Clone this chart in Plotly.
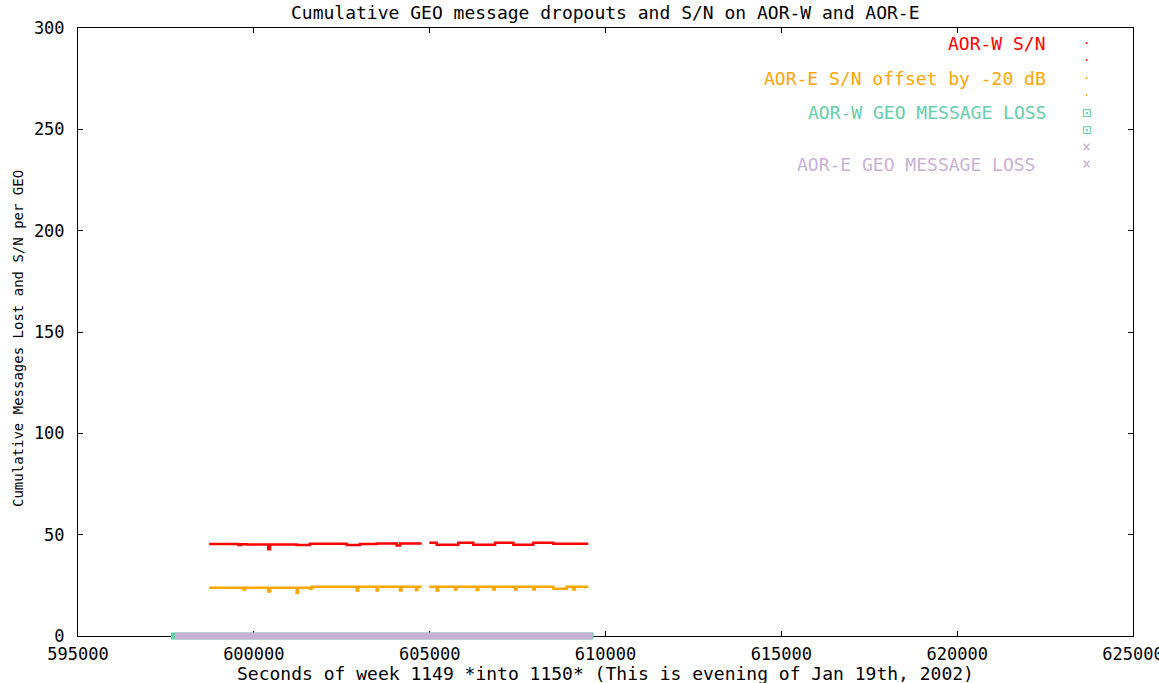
import plotly.graph_objects as go

# ---------------- data ----------------
# AOR-W S/N (dB-Hz), step samples; None marks the data gap
aorw_t = [598734, 599559, 599640, 599797, 600412, 600460, 601218, 601597, 602071,
          602640, 603018, 603492, 604062, 604156, 604773, 604880, 604990, 605200,
          605815, 606242, 606858, 607380, 607948, 608517, 608706, 609511]
aorw_v = [45.4, 44.9, 45.3, 45.2, 42.8, 45.2, 44.9, 45.5, 45.5,
          44.9, 45.4, 45.7, 44.6, 45.7, 45.7, None, 46.0, 45.0,
          46.0, 45.0, 46.0, 45.0, 46.0, 45.5, 45.5, 45.5]

# AOR-E S/N offset by -20 dB
aore_t = [598734, 599702, 599760, 600412, 600460, 601218, 601260, 601597, 601645,
          602450, 602924, 602970, 603492, 603530, 604156, 604200, 604611, 604650,
          604773, 604880, 604990, 605200, 605240, 605720, 605760, 606336, 606380,
          606810, 606850, 607427, 607470, 607948, 607990, 608517, 608896, 609085,
          609130, 609511]
aore_v = [23.85, 23.0, 23.85, 21.9, 23.85, 21.4, 23.85, 23.35, 24.34,
          24.34, 22.4, 24.34, 22.4, 24.34, 22.4, 24.34, 22.7, 24.34,
          24.34, None, 24.34, 22.4, 24.34, 23.0, 24.34, 22.7, 24.34,
          23.0, 24.34, 22.9, 24.34, 23.0, 24.34, 23.35, 24.34, 23.0,
          24.34, 24.34]

# cumulative GEO message loss (no losses)
lossw_t = [597640, 609660]
lossw_v = [0, 0]
losse_t = [597760, 609630]
losse_v = [0, 0]

x_ticks = [595000, 600000, 605000, 610000, 615000, 620000, 625000]
y_ticks = [0, 50, 100, 150, 200, 250, 300]

legend_labels = ["AOR-W S/N", "AOR-E S/N offset by -20 dB",
                 "AOR-W GEO MESSAGE LOSS", "AOR-E GEO MESSAGE LOSS"]

RED = "#ff0000"
ORANGE = "#ffa500"
GREEN = "#66cdaa"
PLUM = "#c8b2d4"
FONT = "DejaVu Sans Mono"

fig = go.Figure()
fig.add_trace(go.Scatter(x=aore_t, y=aore_v, mode="lines", line=dict(color=ORANGE, width=2.5, shape="hv"),
                         xaxis="x", yaxis="y", connectgaps=False, showlegend=False))
fig.add_trace(go.Scatter(x=aorw_t, y=aorw_v, mode="lines", line=dict(color=RED, width=2.5, shape="hv"),
                         xaxis="x", yaxis="y", connectgaps=False, showlegend=False))
fig.add_trace(go.Scatter(x=lossw_t, y=lossw_v, mode="lines", line=dict(color=GREEN, width=7),
                         xaxis="x", yaxis="y2", showlegend=False))
fig.add_trace(go.Scatter(x=losse_t, y=losse_v, mode="lines", line=dict(color=PLUM, width=7),
                         xaxis="x", yaxis="y2", showlegend=False))

W, H = 1159, 683
L, R, T, B = 78, 26, 28, 40
plot_h = H - T - B           # 615
axis_bottom_px = 636
dom0 = (H - B - axis_bottom_px) / plot_h
px_per_unit = (axis_bottom_px - T) / 300.0
y2_min = -(H - B - axis_bottom_px) / px_per_unit

fig.update_layout(
    width=W, height=H,
    margin=dict(l=L, r=R, t=T, b=B, autoexpand=False),
    paper_bgcolor="white", plot_bgcolor="rgba(0,0,0,0)",
    font=dict(family=FONT, size=17, color="black"),
    xaxis=dict(range=[595000, 625000], tickvals=x_ticks, ticktext=[str(v) for v in x_ticks],
               ticks="inside", ticklen=5, tickcolor="black", showline=True, linecolor="black",
               linewidth=1, mirror="ticks", showgrid=False, zeroline=False, automargin=False,
               anchor="y", tickfont=dict(size=17), ticklabeloverflow="allow",
               ticklabelstandoff=3),
    yaxis=dict(range=[0, 300], domain=[dom0, 1], tickvals=y_ticks,
               ticks="inside", ticklen=5, tickcolor="black", showline=True, linecolor="black",
               linewidth=1, mirror="ticks", showgrid=False, zeroline=False, automargin=False,
               ticklabelstandoff=9, tickfont=dict(size=17)),
    yaxis2=dict(range=[y2_min, 300], domain=[0, 1], visible=False, anchor="x"),
    showlegend=False,
)

# titles
fig.add_annotation(text="Cumulative GEO message dropouts and S/N on AOR-W and AOR-E",
                   xref="x domain", yref="paper", x=0.5, y=1, yshift=16, yanchor="middle",
                   showarrow=False, font=dict(size=18))
fig.add_annotation(text="Seconds of week 1149 *into 1150* (This is evening of Jan 19th, 2002)",
                   xref="x domain", yref="paper", x=0.5, y=0, yshift=-(673 - (H - B)), yanchor="middle",
                   showarrow=False, font=dict(size=18))

# gnuplot-style key
def px_x(p):
    return (p - L) / (W - L - R)

def px_y(p):
    return (axis_bottom_px - p) / (axis_bottom_px - T)

fig.add_annotation(text="Cumulative Messages Lost and S/N per GEO",
                   xref="paper", yref="y domain", x=0, xshift=-(L - 18), y=px_y(339), xanchor="center",
                   yanchor="middle", textangle=-90, showarrow=False, font=dict(size=14))

key_rows = [(legend_labels[0], RED, 43, 1048, "·", [43, 60]),
            (legend_labels[1], ORANGE, 78, 1048, "·", [78, 95]),
            (legend_labels[2], GREEN, 113, 1048, "⊡", [113, 130]),
            (legend_labels[3], PLUM, 165, 1037, "×", [147, 164])]
for label, col, ty, tx, glyph, gys in key_rows:
    fig.add_annotation(text=label, xref="x domain", yref="y domain", x=px_x(tx), y=px_y(ty),
                       xanchor="right", yanchor="middle", showarrow=False,
                       font=dict(size=18, color=col))
    for gy in gys:
        fig.add_annotation(text=glyph, xref="x domain", yref="y domain", x=px_x(1086), y=px_y(gy),
                           xanchor="center", yanchor="middle", showarrow=False,
                           font=dict(size=15 if glyph != "·" else 12, color=col))

fig.write_html("out.html")
